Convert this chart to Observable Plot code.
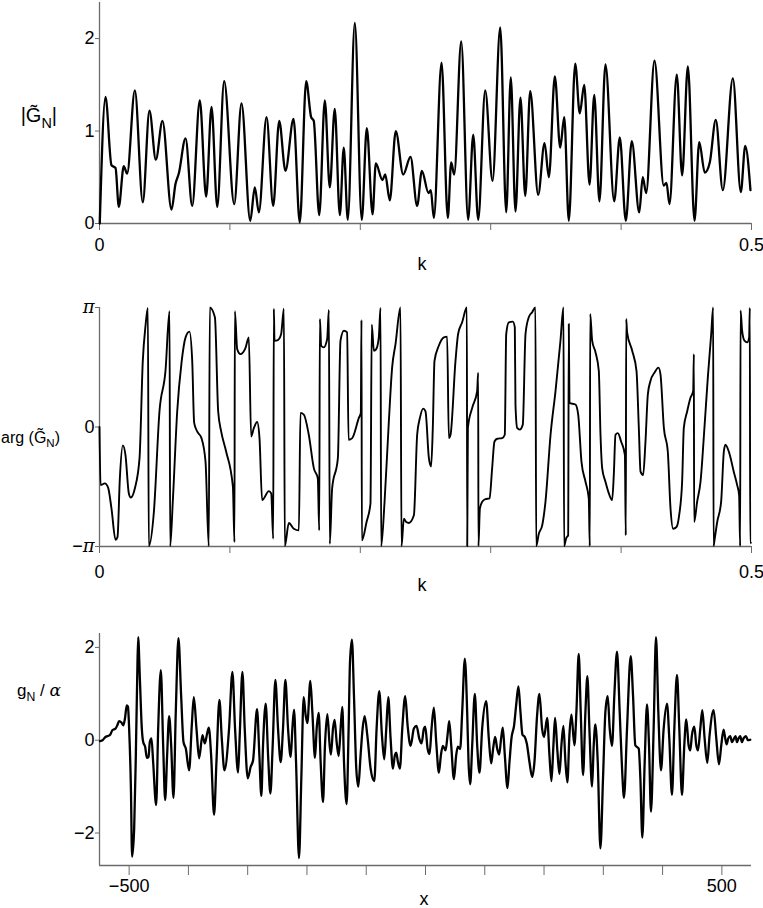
<!DOCTYPE html>
<html><head><meta charset="utf-8">
<script src="https://cdn.jsdelivr.net/npm/d3@7"></script>
<script src="https://cdn.jsdelivr.net/npm/@observablehq/plot@0.6"></script>
<style>
body{margin:0;background:#fff;}
#chart{position:relative;width:763px;height:908px;overflow:hidden;}
#chart svg{position:absolute;left:0;overflow:visible;}
</style></head><body><div id="chart"></div>
<script>
// ---- Panel 1: |G~_N| versus k  ([k, value]) ----
const magnitude = [[0.0002,0.0],[0.0046,1.37],[0.0092,0.63],[0.0123,0.60],[0.0148,0.18],[0.0186,0.62],[0.0212,0.54],[0.0271,1.44],[0.0332,0.23],[0.0383,1.22],
[0.0432,0.69],[0.0483,1.11],[0.0552,0.15],[0.0583,0.43],[0.0608,0.54],[0.0660,0.92],[0.0711,0.19],[0.0769,1.33],[0.0818,0.29],[0.0859,1.26],
[0.0903,0.18],[0.0956,1.54],[0.1033,0.21],[0.1089,1.30],[0.1156,0.03],[0.1191,0.39],[0.1222,0.12],[0.1281,1.15],[0.1332,0.19],[0.1378,1.11],
[0.1426,0.57],[0.1488,1.13],[0.1536,0.01],[0.1585,1.54],[0.1623,1.15],[0.1643,1.11],[0.1685,0.09],[0.1728,1.33],[0.1766,0.39],[0.1804,1.24],
[0.1843,0.09],[0.1873,0.82],[0.1904,0.04],[0.1958,2.17],[0.2011,0.04],[0.2050,1.03],[0.2094,0.10],[0.2119,0.65],[0.2170,0.47],[0.2191,0.53],
[0.2226,0.25],[0.2272,1.0],[0.2329,0.53],[0.2385,0.72],[0.2436,0.19],[0.2472,0.57],[0.2523,0.33],[0.2541,0.36],[0.2564,0.06],[0.2623,1.74],
[0.2671,0.06],[0.2697,0.66],[0.2720,0.53],[0.2774,1.97],[0.2827,0.04],[0.2866,0.96],[0.2904,0.04],[0.2958,1.44],[0.3014,0.46],[0.3073,2.12],
[0.3119,0.12],[0.3154,1.58],[0.3190,0.13],[0.3228,1.36],[0.3265,0.30],[0.3303,1.43],[0.3364,0.31],[0.3413,0.87],[0.3446,0.50],[0.3492,1.59],
[0.3533,0.82],[0.3564,1.15],[0.3599,0.03],[0.3648,1.73],[0.3683,1.19],[0.3717,1.50],[0.3758,0.42],[0.3794,1.39],[0.3834,0.24],[0.3880,1.72],
[0.3947,0.24],[0.3990,0.93],[0.4036,0.03],[0.4082,0.89],[0.4139,0.12],[0.4166,0.50],[0.4192,0.33],[0.4256,1.76],[0.4327,0.41],[0.4348,0.44],
[0.4371,0.21],[0.4427,1.61],[0.4468,0.52],[0.4512,1.70],[0.4563,0.03],[0.4599,0.88],[0.4642,0.55],[0.4680,0.66],[0.4726,1.12],[0.4780,0.36],
[0.4857,1.57],[0.4918,0.34],[0.4952,0.84],[0.4992,0.36]];

// ---- Panel 2: arg(G~_N) / pi versus k ([k, phase/pi]) ----
const phaseOverPi = [[0.0000,0.0],[0.0008,-0.486],[0.0041,-0.472],[0.0066,-0.508],[0.0092,-0.683],[0.0123,-0.944],[0.0138,-0.921],[0.0156,-0.430],[0.0179,-0.154],[0.0199,-0.233],
[0.0225,-0.556],[0.0240,-0.590],[0.0271,-0.514],[0.0307,-0.261],[0.0332,0.553],[0.0353,0.848],[0.0371,0.997],[0.0378,-0.997],[0.0417,-0.711],[0.0460,0.132],
[0.0506,0.469],[0.0537,0.969],[0.0542,-0.997],[0.0562,-0.626],[0.0596,0.132],[0.0629,0.539],[0.0660,0.750],[0.0690,0.798],[0.0711,0.553],[0.0726,0.034],
[0.0749,-0.037],[0.0782,-0.093],[0.0813,-0.289],[0.0838,-0.997],[0.0846,1.0],[0.0885,0.918],[0.0910,0.132],[0.0933,-0.037],[0.0971,-0.205],[0.1023,-0.500],
[0.1035,-0.963],[0.1038,0.969],[0.1056,0.652],[0.1081,0.610],[0.1119,0.660],[0.1145,0.750],[0.1163,-0.079],[0.1184,-0.008],[0.1209,0.042],[0.1227,-0.093],
[0.1247,-0.612],[0.1299,-0.537],[0.1317,-0.556],[0.1332,-0.935],[0.1337,0.989],[0.1342,0.722],[0.1368,0.728],[0.1393,0.778],[0.1414,0.989],[0.1421,-0.997],
[0.1452,-0.803],[0.1490,-0.851],[0.1529,-0.865],[0.1541,0.118],[0.1567,0.104],[0.1605,-0.065],[0.1644,-0.346],[0.1674,-0.430],[0.1685,-0.865],[0.1690,0.904],
[0.1700,0.680],[0.1720,0.666],[0.1746,0.736],[0.1759,0.980],[0.1766,-0.978],[0.1784,-0.514],[0.1828,-0.261],[0.1848,0.722],[0.1874,0.806],[0.1899,0.792],
[0.1910,-0.107],[0.1938,-0.093],[0.1989,0.076],[0.2004,0.118],[0.2009,0.896],[0.2012,-0.949],[0.2048,-0.795],[0.2078,-0.640],[0.2088,0.857],[0.2104,0.638],
[0.2122,0.652],[0.2142,0.750],[0.2155,0.997],[0.2160,-0.997],[0.2186,-0.626],[0.2219,0.048],[0.2244,0.497],[0.2270,0.694],[0.2308,1.0],[0.2316,-0.997],
[0.2334,-0.767],[0.2352,-0.795],[0.2372,-0.803],[0.2411,-0.739],[0.2436,-0.065],[0.2457,0.076],[0.2482,0.154],[0.2500,0.130],[0.2526,-0.261],[0.2543,-0.331],
[0.2556,-0.008],[0.2569,0.553],[0.2602,0.680],[0.2641,0.750],[0.2666,0.756],[0.2679,-0.093],[0.2692,-0.065],[0.2730,0.553],[0.2750,0.778],[0.2781,0.876],
[0.2817,1.0],[0.2820,-0.997],[0.2825,-0.008],[0.2858,0.160],[0.2896,0.301],[0.2904,0.455],[0.2906,-0.997],[0.2917,-0.683],[0.2935,-0.626],[0.2960,-0.604],
[0.2991,-0.598],[0.3011,-0.346],[0.3029,-0.121],[0.3050,-0.098],[0.3088,-0.093],[0.3108,-0.065],[0.3119,0.778],[0.3139,0.876],[0.3170,0.882],[0.3185,0.834],
[0.3190,0.188],[0.3203,-0.008],[0.3223,-0.022],[0.3246,0.020],[0.3267,0.778],[0.3292,0.918],[0.3318,0.961],[0.3343,1.0],[0.3349,-0.997],[0.3369,-0.893],
[0.3395,-0.823],[0.3420,-0.626],[0.3459,-0.065],[0.3497,0.301],[0.3535,0.722],[0.3558,1.0],[0.3563,-0.997],[0.3579,-0.930],[0.3594,-0.907],[0.3599,0.862],
[0.3604,0.202],[0.3650,0.188],[0.3671,0.104],[0.3696,-0.289],[0.3727,-0.458],[0.3752,-0.598],[0.3760,-0.997],[0.3763,0.947],[0.3778,0.722],[0.3804,0.624],
[0.3829,0.469],[0.3842,-0.065],[0.3855,-0.346],[0.3880,-0.458],[0.3906,-0.556],[0.3931,-0.612],[0.3944,-0.402],[0.3957,-0.065],[0.3975,-0.051],[0.4000,-0.121],
[0.4029,-0.233],[0.4036,-0.907],[0.4039,0.904],[0.4046,0.792],[0.4085,0.638],[0.4118,0.469],[0.4136,-0.008],[0.4149,-0.374],[0.4169,-0.402],[0.4187,-0.121],
[0.4205,0.272],[0.4225,0.385],[0.4256,0.455],[0.4287,0.497],[0.4302,0.441],[0.4328,-0.008],[0.4358,-0.205],[0.4379,-0.683],[0.4399,-0.851],[0.4425,-0.837],
[0.4445,-0.739],[0.4468,-0.458],[0.4481,-0.008],[0.4507,0.132],[0.4532,0.244],[0.4553,0.301],[0.4558,0.610],[0.4560,-0.795],[0.4583,-0.626],[0.4609,-0.458],
[0.4639,-0.008],[0.4665,0.413],[0.4691,0.778],[0.4706,1.0],[0.4709,-0.997],[0.4716,-0.949],[0.4737,-0.795],[0.4767,-0.626],[0.4788,-0.205],[0.4800,-0.149],
[0.4826,-0.205],[0.4864,-0.374],[0.4890,-0.486],[0.4905,-0.570],[0.4913,-0.997],[0.4916,0.975],[0.4928,0.806],[0.4946,0.722],[0.4967,0.708],[0.4982,0.750],
[0.4987,0.997],[0.4990,-0.969],[0.4995,-0.969]];

// ---- Panel 3: g_N / alpha versus x ([x, value]) ----
const signal = [[-549,-0.02],[-545,0],[-540,0.07],[-536,0.09],[-532,0.12],[-528,0.22],[-523,0.25],[-520,0.32],[-517,0.41],[-513,0.38],
[-510,0.32],[-507,0.47],[-504,0.75],[-502,0.72],[-500,0.25],[-497,-1.04],[-495,-2.51],[-491.5,-1.90],[-488.7,-0.32],[-486.4,1.33],
[-484.8,2.22],[-481.9,1.33],[-478.6,0.25],[-476.3,-0.04],[-473,-0.14],[-470.1,-0.38],[-467.3,-0.36],[-465.1,-0.04],[-462.3,0.04],[-459.5,-0.47],
[-454.4,-1.40],[-451,0.25],[-446.5,1.51],[-442.6,-0.11],[-439.2,-1.29],[-435.9,-0.32],[-432.5,0.52],[-429.1,-0.11],[-425.2,-1.24],[-421.3,0.61],
[-416.8,2.20],[-412.3,0.97],[-408.3,-0.04],[-404.4,-0.18],[-398.8,-0.65],[-394.3,0.32],[-390.9,0.93],[-386.4,0.25],[-381.9,-0.39],[-376.3,0.11],
[-372.4,-0.07],[-368.5,0.14],[-365.6,0.27],[-361.7,-0.32],[-356.7,-1.61],[-352.7,-0.47],[-347.7,0.87],[-343.7,0.04],[-339.2,-0.65],[-331.4,0.25],
[-325.8,1.47],[-321.3,0.25],[-316.2,-0.70],[-313.4,0.11],[-308.9,1.47],[-305,0.25],[-299.9,-0.82],[-294.9,-0.57],[-290.9,-0.43],[-284.2,0.67],
[-280.3,-0.32],[-277,-1.20],[-274.1,-0.11],[-269.6,0.79],[-265.6,-0.32],[-261.7,-1.15],[-257.8,-0.11],[-253.3,1.30],[-248.8,0.25],[-244.3,-0.47],
[-240.4,0.25],[-236.4,1.30],[-231.9,0.25],[-227.4,-0.36],[-224.6,0.25],[-221.8,0.66],[-218.4,-0.47],[-213.4,-2.54],[-209.5,-0.82],[-205.5,0.93],
[-202.2,0.54],[-199.3,0.37],[-194.3,1.28],[-190.9,0.61],[-186.4,-0.38],[-183.6,0.25],[-180.2,0.59],[-176.9,-0.47],[-172.9,-1.33],[-169.6,-0.11],
[-165.6,0.56],[-161.7,-0.11],[-159.5,-0.31],[-156.1,0.25],[-153.3,0.44],[-149.9,-0.04],[-146.5,-0.34],[-143.2,0.25],[-140.4,0.72],[-137.5,-0.47],
[-133.1,-1.38],[-129.7,0.25],[-127.4,1.68],[-124.1,2.17],[-120.7,0.97],[-116.8,-0.61],[-113.4,-1.00],[-109.5,-0.32],[-106.1,0.25],[-102.7,0.52],
[-98.2,0.11],[-92.6,-0.61],[-86.4,-0.88],[-82.5,0.25],[-78,1.06],[-73.5,0.11],[-69.6,-0.41],[-66.2,0.25],[-62.8,0.93],[-58.9,0.04],
[-55,-0.61],[-51.6,-0.32],[-49.3,-0.27],[-46.5,-0.47],[-43.2,-0.61],[-39.2,0.25],[-34.2,0.95],[-30.2,0.32],[-25.2,-0.12],[-19.6,0.25],
[-15.1,0.31],[-10.6,0.04],[-6.7,-0.07],[-2.7,0.25],[-0.5,0.29],[3.5,-0.18],[6.8,-0.30],[10.2,0.25],[14.1,0.70],[18.1,-0.04],
[22.6,-0.70],[26,-0.32],[29.3,-0.12],[33.8,-0.22],[37.2,0.11],[40,0.41],[43.4,-0.11],[47.9,-0.84],[51.8,-0.32],[54.6,-0.14],
[58.5,-0.19],[61.9,0.61],[66.4,1.76],[70.3,0.61],[72.6,-0.47],[75.4,-0.95],[78.8,-0.11],[83.2,1.00],[87.2,-0.11],[91.1,-0.70],
[95.6,0.25],[102.3,0.84],[106.8,0.04],[110.8,-0.50],[114.1,-0.18],[117.5,0.07],[120.9,-0.18],[124.3,-0.31],[127.6,0.04],[130.4,0.27],
[133.8,-0.32],[138.3,-1.03],[141.7,-0.47],[145,0.04],[149.5,0.32],[152.9,0.75],[156.8,1.16],[160.2,0.61],[163.6,0.12],[167.5,0.07],
[170.9,-0.07],[175.4,-0.47],[179.9,-0.79],[183.8,-0.47],[188.3,0.54],[192.2,1.00],[196.7,0.25],[200.1,0.07],[205.2,0.48],[209.1,-0.32],
[212.5,-0.88],[215.8,-0.11],[218.6,0.48],[222.6,-0.25],[226,-0.73],[229.3,-0.11],[232.7,0.31],[236.1,-0.47],[239.4,-0.91],[242.8,0.11],
[246.2,0.55],[251.2,-0.11],[254.6,0.61],[258.5,1.86],[261.9,0.61],[265.8,-0.75],[269.8,0.61],[273.1,1.38],[276.5,0.25],[281,-1.00],
[283.8,-0.11],[286.6,0.34],[290.6,-0.47],[295.1,-2.33],[299.5,-0.82],[303.5,0.61],[307.4,0.95],[310.8,0.25],[314.7,-0.12],[318.6,0.97],
[323.1,1.91],[327.6,0.61],[331.6,-0.61],[334.9,-1.24],[340,0.25],[346.2,1.81],[350.1,0.97],[354,-0.11],[359.7,-0.18],[362.5,-0.82],
[365.8,-2.10],[369.8,-0.47],[373.7,0.77],[377.1,-0.11],[380.4,-1.54],[384.9,0.25],[388.9,2.22],[392.8,0.61],[397.3,-0.65],[401.8,0.25],
[407.4,0.79],[411.3,0.04],[415.8,-1.18],[419.8,0.25],[424.3,1.41],[428.2,0.25],[432.7,-1.18],[436.6,-0.11],[440,0.45],[443.9,-0.11],
[446.7,-0.22],[449.5,0.11],[453.5,0.29],[456.9,-0.11],[459.7,-0.22],[463.6,0.25],[467,0.65],[470.9,0.04],[475.4,-0.49],[479.3,0.11],
[486.1,0.65],[490.6,0.04],[495.1,-0.52],[499,-0.11],[502.9,0.23],[505.7,0.04],[508,-0.09],[510.8,0.04],[514.2,0.09],[517,-0.04],
[519.8,0.02],[523.1,0.09],[525.4,-0.04],[528.2,0.04],[531,0.09],[533.8,-0.04],[536.6,0.04],[540.6,0.09],[543.9,0],[547.9,0.01]];

// ---- ticks and labels ----
const kTicks = [0, 0.1, 0.2, 0.3, 0.4, 0.5];
const kTickLabels = new Map([[0, "0"], [0.5, "0.5"]]);
const magTicks = [0, 1, 2];
const phaseTicks = [-1, 0, 1];
const phaseTickLabels = new Map([[-1, "\u2212\u03c0"], [0, "0"], [1, "\u03c0"]]);
const xTicks = [-500, -400, -300, -200, -100, 0, 100, 200, 300, 400, 500];
const xTickLabels = new Map([[-500, "\u2212500"], [500, "500"]]);
const gTicks = [-2, 0, 2];

const FONT = "'Liberation Sans', Arial, Helvetica, sans-serif";
const MATH = "'DejaVu Serif', 'Liberation Serif', serif";
const AXIS = "#6b6b6b";
const root = document.getElementById("chart");

function base(opts) {
  return Object.assign({
    width: 763, marginLeft: 99, marginRight: 12,
    style: {fontFamily: FONT, fontSize: "18px", color: "#000", background: "transparent", overflow: "visible"}
  }, opts);
}
function place(svg, top) {
  svg.style.top = top + "px"; root.appendChild(svg);
  // render pi symbols in an italic math face
  d3.select(svg).selectAll("text").filter(function () { return this.textContent.includes("\u03c0"); })
    .each(function () {
      const t = d3.select(this), s = this.textContent;
      t.text(null);
      for (const ch of s) {
        const sp = t.append("tspan").text(ch);
        if (ch === "\u03c0") sp.attr("font-family", MATH).attr("font-style", "italic");
      }
    });
  return svg;
}
function label(svg, x, y, anchor, parts, size) {
  const t = d3.select(svg).append("text").attr("x", x).attr("y", y)
    .attr("text-anchor", anchor).attr("font-family", FONT).attr("font-size", size).attr("fill", "#000");
  for (const p of parts) {
    const s = t.append("tspan").text(p.t);
    if (p.sub) s.attr("font-size", size * 0.72).attr("dy", size * 0.28);
    if (p.up) s.attr("dy", -size * 0.28);
    if (p.it) s.attr("font-style", "italic").attr("font-family", MATH);
  }
}

// Panel 1
const p1 = Plot.plot(base({
  height: 290, marginTop: 2, marginBottom: 67,
  x: {domain: [0, 0.5]}, y: {domain: [0, 2.39]},
  marks: [
    Plot.ruleX([0], {stroke: AXIS, strokeWidth: 1.3}),
    Plot.ruleY([0], {stroke: AXIS, strokeWidth: 1.3}),
    Plot.axisX(kTicks, {tickSize: 7, tickPadding: 8, stroke: AXIS, fill: "#000", tickFormat: d => kTickLabels.get(d) ?? "", label: null}),
    Plot.axisY(magTicks, {tickSize: 4, tickPadding: 1, stroke: AXIS, fill: "#000", tickFormat: d => String(d), label: null}),
    Plot.line(magnitude, {x: d => d[0], y: d => d[1], curve: "monotone-x", stroke: "#000", strokeWidth: 2.3})
  ]
}));
place(p1, 0);
label(p1, 422, 270, "middle", [{t: "k"}], 18);
label(p1, 57, 122, "end", [{t: "|G\u0303"}, {t: "N", sub: true}, {t: "|", up: true}], 20);

// Panel 2
const p2 = Plot.plot(base({
  height: 310, marginTop: 17, marginBottom: 54,
  x: {domain: [0, 0.5]}, y: {domain: [-1, 1]},
  marks: [
    Plot.ruleX([0], {stroke: AXIS, strokeWidth: 1.3}),
    Plot.ruleY([-1], {stroke: AXIS, strokeWidth: 1.3}),
    Plot.axisX(kTicks, {tickSize: 7, tickPadding: 12, stroke: AXIS, fill: "#000", tickFormat: d => kTickLabels.get(d) ?? "", label: null}),
    Plot.axisY(phaseTicks, {tickSize: 4, tickPadding: 1, stroke: AXIS, fill: "#000", tickFormat: d => phaseTickLabels.get(d), label: null}),
    Plot.line(phaseOverPi, {x: d => d[0], y: d => d[1], curve: "monotone-x", stroke: "#000", strokeWidth: 1.9})
  ]
}));
place(p2, 290);
label(p2, 422, 301, "middle", [{t: "k"}], 18);
label(p2, 1, 153, "start", [{t: "arg (G\u0303"}, {t: "N", sub: true}, {t: ")", up: true}], 16);

// Panel 3
const p3 = Plot.plot(base({
  height: 308, marginTop: 33, marginBottom: 43,
  x: {domain: [-550, 550]}, y: {domain: [-2.7, 2.3]},
  marks: [
    Plot.ruleX([-550], {stroke: AXIS, strokeWidth: 1.3}),
    Plot.ruleY([-2.7], {stroke: AXIS, strokeWidth: 1.3}),
    Plot.axisX(xTicks, {tickSize: 10, tickPadding: 4, stroke: AXIS, fill: "#000", tickFormat: d => xTickLabels.get(d) ?? "", label: null}),
    Plot.axisY(gTicks, {tickSize: 4, tickPadding: 1, stroke: AXIS, fill: "#000", tickFormat: d => d < 0 ? "\u2212" + Math.abs(d) : String(d), label: null}),
    Plot.line(signal, {x: d => d[0], y: d => d[1], curve: "monotone-x", stroke: "#000", strokeWidth: 2.3})
  ]
}));
place(p3, 600);
label(p3, 424, 305, "middle", [{t: "x"}], 18);
label(p3, 61, 96, "end", [{t: "g"}, {t: "N", sub: true}, {t: " / ", up: true}, {t: "\u03b1", it: true}], 17);
</script></body></html>
